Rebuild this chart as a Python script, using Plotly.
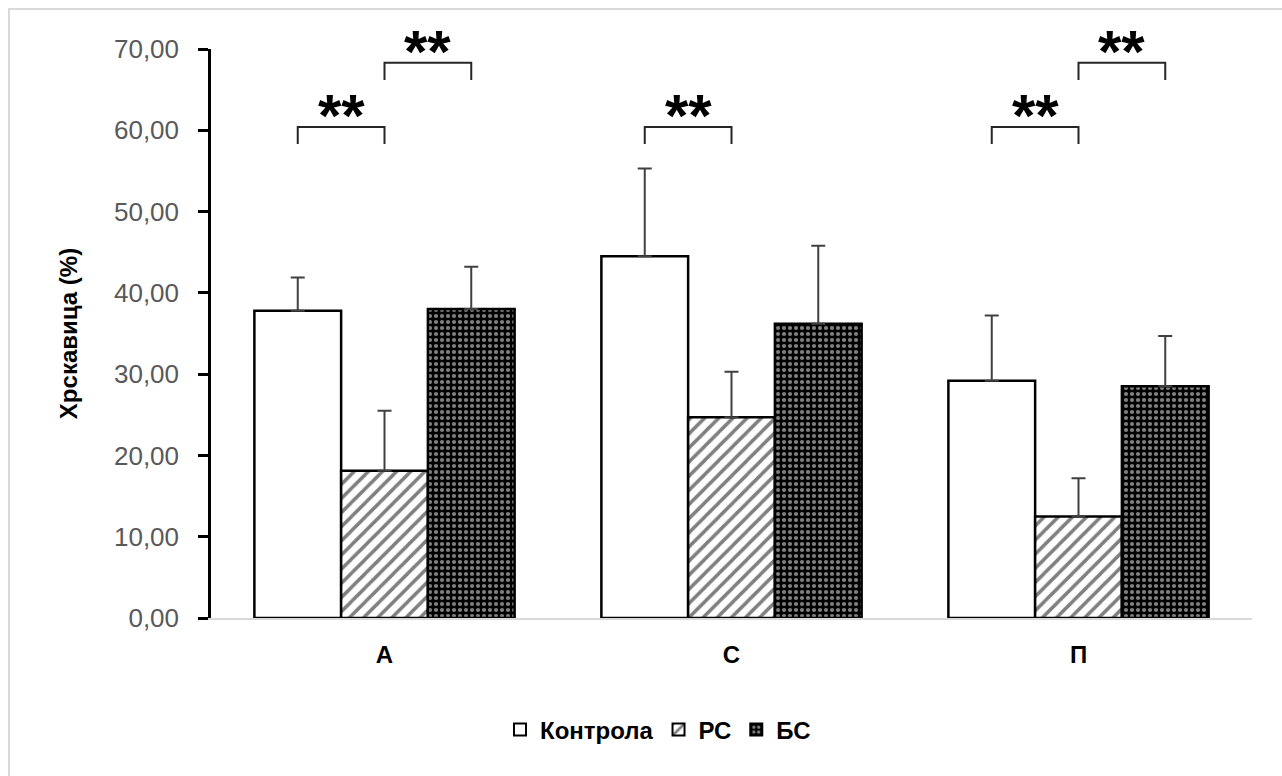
import plotly.graph_objects as go

categories = ["А", "С", "П"]
series_names = ["Контрола", "РС", "БС"]
kontrola = [37.8, 44.5, 29.2]
kontrola_err = [4.1, 10.8, 8.0]
rs = [18.1, 24.7, 12.5]
rs_err = [7.4, 5.6, 4.7]
bs = [38.0, 36.2, 28.5]
bs_err = [5.2, 9.6, 6.2]
y_ticks = [0, 10, 20, 30, 40, 50, 60, 70]
# significance brackets: (category index, left bar offset, right bar offset, level)
sig_brackets = [(0, -1, 0, 60.4), (0, 0, 1, 68.3), (1, -1, 0, 60.4), (2, -1, 0, 60.4), (2, 0, 1, 68.3)]
sig_label = "**"

FONT = "Liberation Sans, Arial"
bar_line = dict(color="black", width=2.5)
err_style = dict(type="data", symmetric=False, arrayminus=[0, 0, 0], color="#404040", thickness=2, width=7)

fig = go.Figure()
fig.add_trace(go.Bar(
    name=series_names[0], x=categories, y=kontrola,
    marker=dict(color="white", line=bar_line),
    error_y=dict(array=kontrola_err, **err_style),
))
fig.add_trace(go.Bar(
    name=series_names[1], x=categories, y=rs,
    marker=dict(color="white", line=bar_line,
                pattern=dict(shape="/", fgcolor="black", bgcolor="white", size=10, solidity=0.35)),
    error_y=dict(array=rs_err, **err_style),
))
fig.add_trace(go.Bar(
    name=series_names[2], x=categories, y=bs,
    marker=dict(color="black", line=bar_line,
                pattern=dict(shape=".", fgcolor="white", bgcolor="black", size=6, solidity=0.38)),
    error_y=dict(array=bs_err, **err_style),
))

bar_w = 0.25
for ci, a, b, lvl in sig_brackets:
    x0 = ci + a * bar_w
    x1 = ci + b * bar_w
    drop = 2.1
    fig.add_shape(type="path",
                  path=f"M {x0},{lvl - drop} L {x0},{lvl} L {x1},{lvl} L {x1},{lvl - drop}",
                  xref="x", yref="y", line=dict(color="#262626", width=2))
    fig.add_annotation(x=(x0 + x1) / 2, y=lvl + 1.4, xref="x", yref="y", text=f"<b>{sig_label}</b>",
                       showarrow=False, yanchor="middle",
                       font=dict(size=60, color="black", family=FONT))

L, R, T, B = 211, 30, 49, 158
W, H = 1282, 776
pw, ph = W - L - R, H - T - B
bx, by = 9, 9
fig.add_shape(type="path", xref="paper", yref="paper",
              path=(f"M {(bx - L) / pw},{-(H - T - ph + 10) / ph} "
                    f"L {(bx - L) / pw},{1 + (T - by) / ph} "
                    f"L {(W + 10 - L) / pw},{1 + (T - by) / ph}"),
              line=dict(color="#d9d9d9", width=2), layer="below")

fig.update_layout(
    width=W, height=H,
    margin=dict(l=L, r=R, t=T, b=B),
    paper_bgcolor="white", plot_bgcolor="white",
    barmode="group", bargap=0.25, bargroupgap=0,
    separators=", ",
    font=dict(family=FONT, color="black"),
    showlegend=True,
    legend=dict(orientation="h", x=(658 - L) / pw, xanchor="center", y=-(730 - (H - B)) / ph, yanchor="middle",
                font=dict(size=24, color="black", family=FONT, weight="bold"),
                itemsizing="constant", itemwidth=30, traceorder="normal"),
    yaxis=dict(range=[0, 70], tickvals=y_ticks, tickformat=".2f",
               showline=True, linecolor="black", linewidth=2.5,
               ticks="outside", ticklen=10, tickwidth=2.5, tickcolor="black",
               ticklabelstandoff=14,
               showgrid=False, zeroline=False,
               tickfont=dict(size=26, color="#595959", family=FONT),
               title=dict(text="<b>Хрскавица (%)</b>", font=dict(size=24, color="black", family=FONT), standoff=30)),
    xaxis=dict(showline=True, linecolor="#d9d9d9", linewidth=2, ticks="",
               ticklabelstandoff=14,
               tickfont=dict(size=24, color="black", family=FONT, weight="bold"),
               showgrid=False),
)

fig.write_html("out.html")
